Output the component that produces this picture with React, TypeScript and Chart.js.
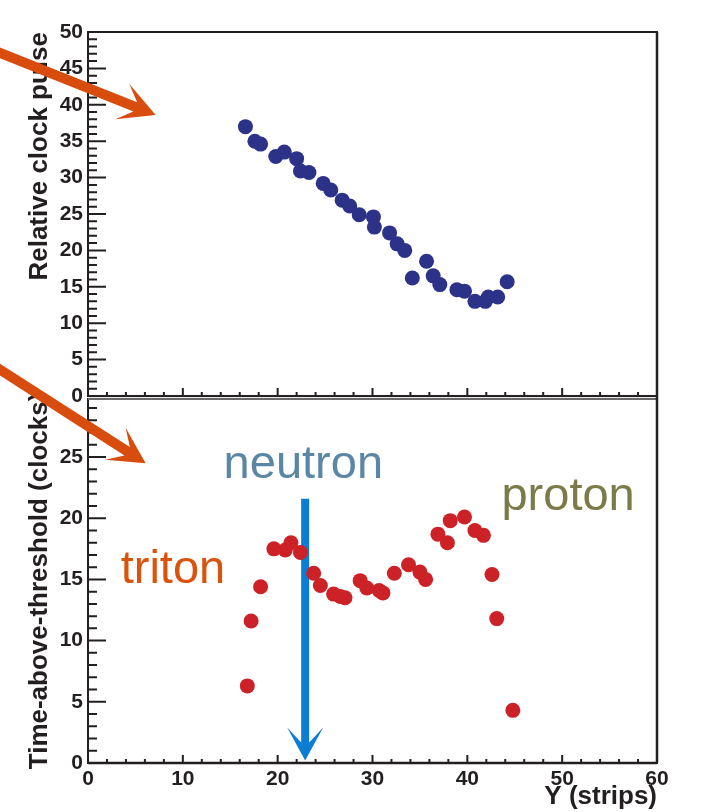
import React, { useEffect, useRef } from 'react';
import { Chart, registerables } from 'chart.js';

Chart.register(...registerables);

// ---- data ----
const stripsTop = [16.6, 17.6, 18.2, 19.8, 20.7, 22.0, 22.4, 23.3, 24.8, 25.6, 26.8, 27.6, 28.6, 30.1, 30.2, 31.8, 32.6, 33.4, 34.2, 35.7, 36.4, 37.1, 38.9, 39.7, 40.8, 41.9, 42.2, 43.2, 44.2];
const clockPulse = [37.0, 35.0, 34.6, 32.9, 33.5, 32.6, 30.9, 30.7, 29.2, 28.3, 26.9, 26.1, 24.9, 24.6, 23.2, 22.4, 20.9, 20.0, 16.2, 18.5, 16.5, 15.3, 14.6, 14.4, 13.0, 13.0, 13.6, 13.6, 15.7];

const stripsBottom = [16.8, 17.2, 18.2, 19.6, 20.8, 21.4, 22.4, 23.8, 24.5, 25.9, 26.6, 27.1, 28.7, 29.4, 30.7, 31.1, 32.3, 33.8, 35.0, 35.6, 36.9, 37.9, 38.2, 39.7, 40.8, 41.7, 42.6, 43.1, 44.8];
const timeAboveThreshold = [6.3, 11.6, 14.4, 17.5, 17.4, 18.0, 17.2, 15.5, 14.5, 13.8, 13.6, 13.5, 14.9, 14.3, 14.1, 13.9, 15.5, 16.2, 15.6, 15.0, 18.7, 18.0, 19.8, 20.1, 19.0, 18.6, 15.4, 11.8, 4.3];

const xRange = [0, 60];
const topRange = [-0.4, 50];
const bottomRange = [0, 29.75];

const xTitle = 'Y (strips)';
const topTitle = 'Relative clock pulse';
const bottomTitle = 'Time-above-threshold (clocks)';

// annotation labels, in data units of the bottom panel
const labelTexts = ['neutron', 'proton', 'triton'];
const labelX = [14.3, 43.6, 3.45];
const labelY = [23.3, 20.67, 14.73];

// blue arrow (bottom panel data units)
const neutronArrowX = [22.9, 22.9];
const neutronArrowY = [21.6, 0.2];

// ---- styles ----
const FONT = '"Liberation Sans", Arial, Helvetica, sans-serif';
const AXIS = '#231f20';
const BLUE_DOT = '#2b3288';
const RED_DOT = '#cd2128';
const ORANGE = '#d84c0d';
const ARROW_BLUE = '#0b7dd5';
const LABEL_COLORS = ['#5b87a6', '#7b7b48', '#d9530d'];

function drawArrow(ctx, x0, y0, x1, y1, w, L, H, n, color) {
  const dx = x1 - x0, dy = y1 - y0;
  const len = Math.hypot(dx, dy);
  const ux = dx / len, uy = dy / len;
  const vx = -uy, vy = ux;
  const bx = x1 - ux * L, by = y1 - uy * L;
  const jx = x1 - ux * (L - n), jy = y1 - uy * (L - n);
  ctx.save();
  ctx.fillStyle = color;
  ctx.beginPath();
  ctx.moveTo(x0 + vx * w / 2, y0 + vy * w / 2);
  ctx.lineTo(jx + vx * w / 2, jy + vy * w / 2);
  ctx.lineTo(bx + vx * H, by + vy * H);
  ctx.lineTo(x1, y1);
  ctx.lineTo(bx - vx * H, by - vy * H);
  ctx.lineTo(jx - vx * w / 2, jy - vy * w / 2);
  ctx.lineTo(x0 - vx * w / 2, y0 - vy * w / 2);
  ctx.closePath();
  ctx.fill();
  ctx.restore();
}

const framePlugin = {
  id: 'rootFrames',
  beforeDatasetsDraw(chart) {
    const { ctx } = chart;
    const x = chart.scales.x;
    const yB = chart.scales.yB;
    drawArrow(
      ctx,
      x.getPixelForValue(neutronArrowX[0]), yB.getPixelForValue(neutronArrowY[0]),
      x.getPixelForValue(neutronArrowX[1]), yB.getPixelForValue(neutronArrowY[1]),
      8, 33, 18, 15, ARROW_BLUE
    );
  },
  afterDatasetsDraw(chart) {
    const { ctx } = chart;
    const x = chart.scales.x;
    const yT = chart.scales.yT;
    const yB = chart.scales.yB;
    const L = x.left, R = x.right;
    ctx.save();
    ctx.lineCap = 'butt';
    // frames
    const tTop = yT.getPixelForValue(50);
    const tBot = yT.getPixelForValue(0);
    const bTop = yB.getPixelForValue(bottomRange[1]);
    const bBot = yB.getPixelForValue(0);
    ctx.strokeStyle = AXIS;
    ctx.lineWidth = 2;
    ctx.strokeRect(L, tTop, R - L, tBot - tTop);
    ctx.strokeRect(L, bTop, R - L, bBot - bTop);
    ctx.strokeStyle = '#6a6a6a';
    ctx.beginPath();
    ctx.moveTo(L, bTop); ctx.lineTo(R, bTop);
    ctx.stroke();
    ctx.strokeStyle = AXIS;
    ctx.lineWidth = 2.5;
    ctx.beginPath();
    ctx.moveTo(R, tTop); ctx.lineTo(R, bBot);
    ctx.moveTo(L, bBot); ctx.lineTo(R, bBot);
    ctx.stroke();
    // y ticks
    ctx.lineWidth = 2;
    ctx.beginPath();
    for (let v = 0; v <= 50; v++) {
      const len = v % 5 === 0 ? 18 : 9;
      const py = yT.getPixelForValue(v);
      ctx.moveTo(L, py); ctx.lineTo(L + len, py);
    }
    for (let v = 0; v <= Math.floor(bottomRange[1]); v++) {
      const len = v % 5 === 0 ? 18 : 9;
      const py = yB.getPixelForValue(v);
      ctx.moveTo(L, py); ctx.lineTo(L + len, py);
    }
    // x ticks (both panels)
    for (let v = xRange[0]; v <= xRange[1]; v += 2) {
      const len = v % 10 === 0 ? 8 : 4;
      const px = x.getPixelForValue(v);
      ctx.moveTo(px, tBot); ctx.lineTo(px, tBot - len);
      ctx.moveTo(px, bBot); ctx.lineTo(px, bBot - len);
    }
    ctx.stroke();
    // labels
    ctx.font = `47px ${FONT}`;
    ctx.textBaseline = 'alphabetic';
    ctx.textAlign = 'left';
    labelTexts.forEach((t, i) => {
      ctx.fillStyle = LABEL_COLORS[i];
      ctx.fillText(t, x.getPixelForValue(labelX[i]), yB.getPixelForValue(labelY[i]));
    });
    ctx.restore();
  },
  afterDraw(chart) {
    const { ctx } = chart;
    const x = chart.scales.x;
    const yT = chart.scales.yT;
    const yB = chart.scales.yB;
    // orange arrows pointing at the two panels
    drawArrow(ctx,
      x.getPixelForValue(-9.6), yT.getPixelForValue(47.3),
      x.getPixelForValue(7.14), yT.getPixelForValue(38.6),
      10, 36, 19, 14, ORANGE);
    drawArrow(ctx,
      x.getPixelForValue(-9.6), yB.getPixelForValue(32.3),
      x.getPixelForValue(6.08), yB.getPixelForValue(24.5),
      10, 36, 19, 14, ORANGE);
  },
};

export default function App() {
  const canvasRef = useRef(null);

  useEffect(() => {
    const canvas = canvasRef.current;
    if (!canvas) return;
    const tickFont = { family: FONT, size: 21, weight: 'bold' };
    const titleFont = { family: FONT, size: 26, weight: 'bold' };
    const chart = new Chart(canvas, {
      type: 'scatter',
      data: {
        datasets: [
          {
            label: topTitle,
            data: stripsTop.map((v, i) => ({ x: v, y: clockPulse[i] })),
            yAxisID: 'yT',
            backgroundColor: BLUE_DOT,
            borderWidth: 0,
            pointRadius: 7.5,
            pointHoverRadius: 7.5,
          },
          {
            label: bottomTitle,
            data: stripsBottom.map((v, i) => ({ x: v, y: timeAboveThreshold[i] })),
            yAxisID: 'yB',
            backgroundColor: RED_DOT,
            borderWidth: 0,
            pointRadius: 7.5,
            pointHoverRadius: 7.5,
          },
        ],
      },
      options: {
        animation: false,
        responsive: false,
        devicePixelRatio: 1,
        layout: { padding: { top: 32, right: 68, bottom: 0, left: 0 } },
        plugins: { legend: { display: false }, tooltip: { enabled: false } },
        scales: {
          x: {
            type: 'linear',
            position: 'bottom',
            min: xRange[0],
            max: xRange[1],
            grid: { display: false, drawTicks: false },
            border: { display: false },
            ticks: { stepSize: 10, padding: 4, color: AXIS, font: tickFont, maxRotation: 0, autoSkip: false },
            title: { display: true, text: xTitle, align: 'end', color: AXIS, font: titleFont, padding: { top: 0, bottom: 0 } },
            afterFit: (s) => { s.height = 49; },
          },
          yB: {
            type: 'linear',
            position: 'left',
            stack: 'panels',
            stackWeight: 364.1,
            min: bottomRange[0],
            max: bottomRange[1],
            grid: { display: false, drawTicks: false },
            border: { display: false },
            ticks: { stepSize: 5, includeBounds: false, padding: 5, color: AXIS, font: tickFont, autoSkip: false },
            title: { display: true, text: bottomTitle, align: 'center', color: AXIS, font: titleFont, padding: { top: 24, bottom: 0 } },
            afterFit: (s) => { s.width = 88; },
          },
          yT: {
            type: 'linear',
            position: 'left',
            stack: 'panels',
            stackWeight: 366.9,
            min: topRange[0],
            max: topRange[1],
            grid: { display: false, drawTicks: false },
            border: { display: false },
            ticks: { stepSize: 5, includeBounds: false, padding: 5, color: AXIS, font: tickFont, autoSkip: false },
            title: { display: true, text: topTitle, align: 'end', color: AXIS, font: titleFont, padding: { top: 24, bottom: 0 } },
            afterFit: (s) => { s.width = 88; },
          },
        },
      },
      plugins: [framePlugin],
    });
    return () => chart.destroy();
  }, []);

  return (
    <div style={{ position: 'absolute', left: 0, top: 0, width: 725, height: 812, background: '#fff' }}>
      <canvas ref={canvasRef} width={725} height={812} style={{ display: 'block' }} />
    </div>
  );
}
